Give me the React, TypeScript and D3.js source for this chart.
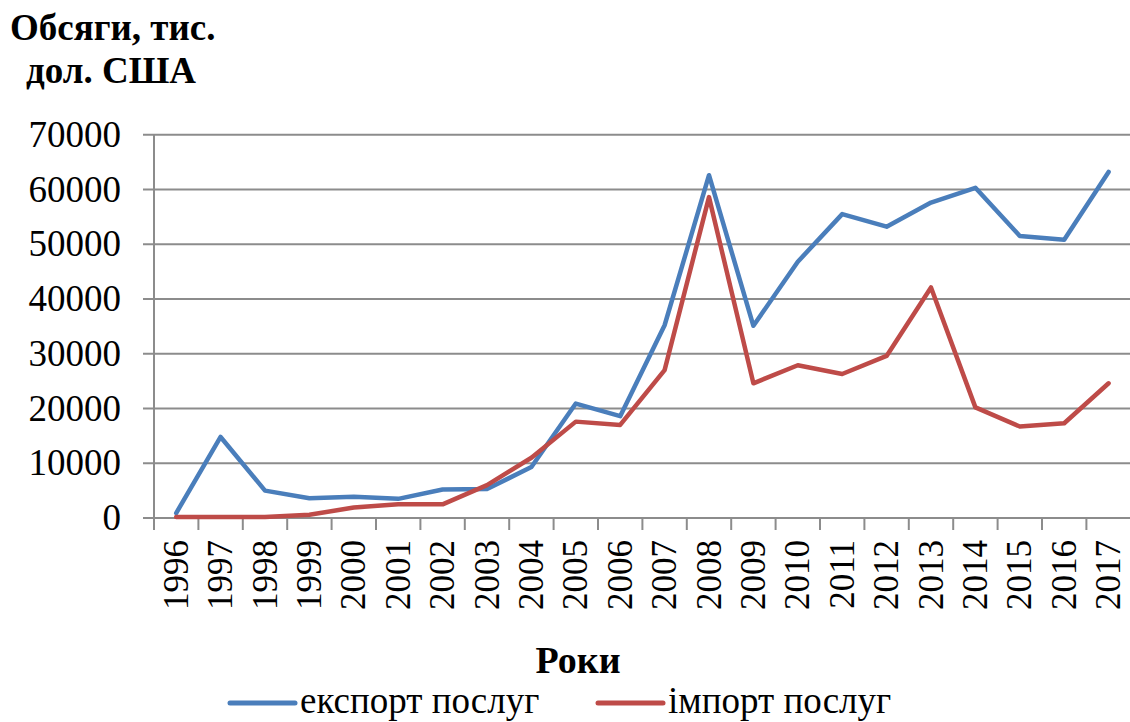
import { line, scaleBand, scaleLinear, select } from 'd3';
import { useEffect, useRef } from 'react';

const years = [
  '1996', '1997', '1998', '1999', '2000', '2001', '2002', '2003', '2004', '2005', '2006',
  '2007', '2008', '2009', '2010', '2011', '2012', '2013', '2014', '2015', '2016', '2017',
];

const exportServices = [
  900, 14800, 5000, 3600, 3900, 3500, 5200, 5300, 9300, 20900, 18600,
  35200, 62600, 35100, 46800, 55500, 53200, 57600, 60300, 51500, 50800, 63200,
];

const importServices = [
  200, 200, 200, 600, 1900, 2500, 2500, 6000, 11000, 17600, 17000,
  27000, 58600, 24600, 27900, 26300, 29600, 42100, 20200, 16700, 17300, 24600,
];

const yTicks = [0, 10000, 20000, 30000, 40000, 50000, 60000, 70000];

const seriesNames = ['експорт послуг', 'імпорт послуг'];

export default function App() {
  const svgRef = useRef<SVGSVGElement>(null);

  useEffect(() => {
    if (!svgRef.current) return;
    const svg = select(svgRef.current);
    const font = '"Liberation Serif", "Times New Roman", serif';
    const blue = '#4a7ebb';
    const red = '#be4b48';
    const grid = '#8c8c8c';

    const x = scaleBand<string>().domain(years).range([154, 154 + 22 * 44.4]);
    const y = scaleLinear().domain([0, 70000]).range([518, 134.7]);

    const root = svg.append('g');

    // gridlines + left ticks
    root
      .selectAll('line.grid')
      .data(yTicks)
      .join('line')
      .attr('class', 'grid')
      .attr('x1', 143)
      .attr('x2', 1130)
      .attr('y1', (d) => y(d))
      .attr('y2', (d) => y(d))
      .attr('stroke', grid)
      .attr('stroke-width', 2);

    // y axis line
    root
      .append('line')
      .attr('x1', 154)
      .attr('x2', 154)
      .attr('y1', y(70000))
      .attr('y2', 530)
      .attr('stroke', grid)
      .attr('stroke-width', 2);

    // x ticks
    root
      .selectAll('line.xtick')
      .data(years.slice(1))
      .join('line')
      .attr('class', 'xtick')
      .attr('x1', (d) => x(d) ?? 0)
      .attr('x2', (d) => x(d) ?? 0)
      .attr('y1', 518)
      .attr('y2', 530)
      .attr('stroke', grid)
      .attr('stroke-width', 2);

    // y labels
    root
      .selectAll('text.ylab')
      .data(yTicks)
      .join('text')
      .attr('class', 'ylab')
      .attr('x', 121)
      .attr('y', (d) => y(d))
      .attr('dy', '0.33em')
      .attr('text-anchor', 'end')
      .attr('font-family', font)
      .attr('font-size', 37)
      .attr('fill', '#000')
      .text((d) => String(d));

    // x labels (rotated)
    root
      .selectAll('text.xlab')
      .data(years)
      .join('text')
      .attr('class', 'xlab')
      .attr(
        'transform',
        (d) => `translate(${(x(d) ?? 0) + x.bandwidth() / 2},540) rotate(-90)`,
      )
      .attr('dy', '0.33em')
      .attr('text-anchor', 'end')
      .attr('font-family', font)
      .attr('font-size', 35)
      .attr('fill', '#000')
      .text((d) => d);

    const pointLine = line<number>()
      .x((_, i) => (x(years[i]) ?? 0) + x.bandwidth() / 2)
      .y((d) => y(d));

    [
      { values: exportServices, color: blue },
      { values: importServices, color: red },
    ].forEach((s) => {
      root
        .append('path')
        .datum(s.values)
        .attr('fill', 'none')
        .attr('d', pointLine)
        .attr('stroke', s.color)
        .attr('stroke-width', 4.5)
        .attr('stroke-linejoin', 'round')
        .attr('stroke-linecap', 'round');
    });

    // axis titles
    root
      .append('text')
      .attr('x', 10)
      .attr('y', 40)
      .attr('font-family', font)
      .attr('font-weight', 'bold')
      .attr('font-size', 37)
      .text('Обсяги, тис.');
    root
      .append('text')
      .attr('x', 26)
      .attr('y', 83)
      .attr('font-family', font)
      .attr('font-weight', 'bold')
      .attr('font-size', 37)
      .text('дол. США');
    root
      .append('text')
      .attr('x', 578)
      .attr('y', 673)
      .attr('text-anchor', 'middle')
      .attr('font-family', font)
      .attr('font-weight', 'bold')
      .attr('font-size', 38)
      .text('Роки');

    // legend
    const legend = [
      { name: seriesNames[0], color: blue, x0: 230 },
      { name: seriesNames[1], color: red, x0: 598 },
    ];
    legend.forEach((l) => {
      root
        .append('line')
        .attr('x1', l.x0)
        .attr('x2', l.x0 + 65)
        .attr('y1', 703)
        .attr('y2', 703)
        .attr('stroke', l.color)
        .attr('stroke-width', 5)
        .attr('stroke-linecap', 'round');
      root
        .append('text')
        .attr('x', l.x0 + 70)
        .attr('y', 713)
        .attr('font-family', font)
        .attr('font-size', 37)
        .text(l.name);
    });

    return () => {
      svg.selectAll('*').remove();
    };
  }, []);

  return (
    <svg
      ref={svgRef}
      width={1130}
      height={722}
      style={{ position: 'absolute', left: 0, top: 0, background: '#fff' }}
    />
  );
}
